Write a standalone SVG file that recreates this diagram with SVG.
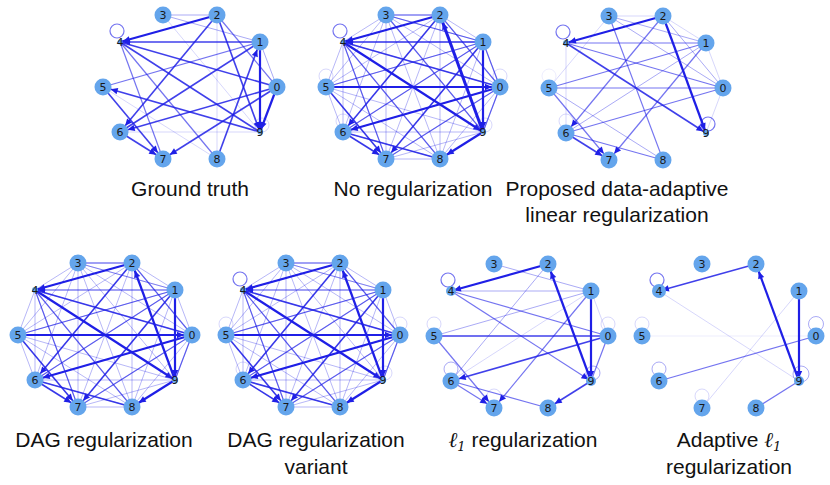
<svg xmlns="http://www.w3.org/2000/svg" xmlns:xlink="http://www.w3.org/1999/xlink" width="830" height="485" viewBox="0 0 830 485">
<style>
.nd{fill:#64a5ec}
.lb{font-family:"DejaVu Sans",sans-serif;font-size:11px;fill:#1a1a1a;text-anchor:middle}
.e0,.e1,.e2,.e3,.e4,.e5,.e6,.base{fill:none;stroke:#1f1fe6}
.e0{stroke-opacity:.1;stroke-width:.8}
.e1{stroke-opacity:.2;stroke-width:.9}
.e2{stroke-opacity:.38;stroke-width:1}
.e3{stroke-opacity:.62;stroke-width:1.2}
.e4{stroke-opacity:.85;stroke-width:1.6}
.e5{stroke-opacity:1;stroke-width:2.2}
.e6{stroke-opacity:1;stroke-width:3}
.base{stroke-opacity:.32;stroke-width:1}
.ma{marker-end:url(#a)}
.ms{marker-end:url(#s)}
.t{font-family:"Liberation Sans",Arial,sans-serif;font-size:21px;fill:#111;text-anchor:middle}
.m{font-family:"DejaVu Serif",serif;font-style:italic}
</style>
<defs>
<marker id="a" markerUnits="userSpaceOnUse" orient="auto" overflow="visible"><path d="M-8,0L-15,-3.2L-15,3.2Z" fill="#1f1fe6"/></marker>
<marker id="s" markerUnits="userSpaceOnUse" orient="auto" overflow="visible"><path d="M-3,0L-10,-3.2L-10,3.2Z" fill="#1f1fe6"/></marker>
<path id="allpairs" class="base" d="M87 0L70 -45M87 0L27 -72M87 0L-27 -72M87 0L-70 -45M87 0L-87 0M87 0L-70 45M87 0L-27 72M87 0L27 72M87 0L70 45M70 -45L27 -72M70 -45L-27 -72M70 -45L-70 -45M70 -45L-87 0M70 -45L-70 45M70 -45L-27 72M70 -45L27 72M70 -45L70 45M27 -72L-27 -72M27 -72L-70 -45M27 -72L-87 0M27 -72L-70 45M27 -72L-27 72M27 -72L27 72M27 -72L70 45M-27 -72L-70 -45M-27 -72L-87 0M-27 -72L-70 45M-27 -72L-27 72M-27 -72L27 72M-27 -72L70 45M-70 -45L-87 0M-70 -45L-70 45M-70 -45L-27 72M-70 -45L27 72M-70 -45L70 45M-87 0L-70 45M-87 0L-27 72M-87 0L27 72M-87 0L70 45M-70 45L-27 72M-70 45L27 72M-70 45L70 45M-27 72L27 72M-27 72L70 45M27 72L70 45"/>
</defs>

<!-- Graph 1: Ground truth -->
<g id="graph1" transform="translate(190,87)">
<g id="graph1-connectors">
<path class="e2" d="M-27-72L27-72"/>
<path class="e1" d="M27-72L27 72"/>
<path class="e3" d="M27-72L87 0"/>
<path class="e2" d="M-27-72L70-45"/>
<path class="e1" d="M-27-72L70 45"/>
<path class="e4" d="M-70-45L87 0"/>
<path class="e4" d="M-70-45L70 45"/>
<path class="e3" d="M-70-45L27 72"/>
<path class="e3" d="M-70-45L-27 72"/>
<path class="e3" d="M70-45L-87 0"/>
<path class="e4" d="M70-45L-70 45"/>
<path class="e2" d="M70-45L87 0"/>
<path class="e1" d="M-87 0L27 72"/>
<path class="e1" d="M-70 45L70 45"/>
<path class="e5 ms" d="M27-72L-70-45"/>
<path class="e4 ms" d="M70-45L-70-45"/>
<path class="e4 ma" d="M27-72L-70 45"/>
<path class="e4 ms" d="M27-72L70 45"/>
<path class="e5 ms" d="M70-45L70 45"/>
<path class="e4 ma" d="M27 72L70-45"/>
<path class="e4 ma" d="M87 0L-70 45"/>
<path class="e4 ma" d="M87 0L-27 72"/>
<path class="e5 ms" d="M87 0L70 45"/>
<path class="e4 ma" d="M70 45L-87 0"/>
<path class="e4 ma" d="M-87 0L-27 72"/>
<path class="e4 ma" d="M-70 45L-27 72"/>
<circle class="e3" cx="-73" cy="-56" r="7"/>
<circle class="e1" cx="72" cy="38" r="7"/>
</g>
<g id="g1-n0" transform="translate(87,0)"><circle class="nd" r="8.5"/><text class="lb" y="4">0</text></g>
<g id="g1-n1" transform="translate(70,-45)"><circle class="nd" r="8.5"/><text class="lb" y="4">1</text></g>
<g id="g1-n2" transform="translate(27,-72)"><circle class="nd" r="8.5"/><text class="lb" y="4">2</text></g>
<g id="g1-n3" transform="translate(-27,-72)"><circle class="nd" r="8.5"/><text class="lb" y="4">3</text></g>
<g id="g1-n4" transform="translate(-70,-45)"><circle class="nd" r="2.5"/><text class="lb" y="4">4</text></g>
<g id="g1-n5" transform="translate(-87,0)"><circle class="nd" r="8.5"/><text class="lb" y="4">5</text></g>
<g id="g1-n6" transform="translate(-70,45)"><circle class="nd" r="8.5"/><text class="lb" y="4">6</text></g>
<g id="g1-n7" transform="translate(-27,72)"><circle class="nd" r="8.5"/><text class="lb" y="4">7</text></g>
<g id="g1-n8" transform="translate(27,72)"><circle class="nd" r="8.5"/><text class="lb" y="4">8</text></g>
<g id="g1-n9" transform="translate(70,45)"><circle class="nd" r="2.5"/><text class="lb" y="4">9</text></g>
</g>

<!-- Graph 2: No regularization -->
<g id="graph2" transform="translate(413,87)">
<g id="graph2-connectors">
<use xlink:href="#allpairs"/>
<path class="e3" d="M-27-72L27-72"/>
<path class="e3" d="M-27-72L70-45"/>
<path class="e3" d="M70-45L-70 45"/>
<path class="e3" d="M70-45L-87 0"/>
<path class="e4" d="M-70-45L87 0"/>
<path class="e4" d="M-70 45L27 72"/>
<path class="e3" d="M87 0L70 45"/>
<path class="e3" d="M87 0L-27 72"/>
<path class="e3" d="M70-45L87 0"/>
<path class="e3" d="M27-72L87 0"/>
<path class="e3" d="M-27-72L70 45"/>
<path class="e3" d="M-70-45L27 72"/>
<path class="e3" d="M-70-45L-27 72"/>
<path class="e5 ms" d="M27-72L-70-45"/>
<path class="e4 ms" d="M70-45L-70-45"/>
<path class="e5 ms" d="M-70-45L70 45"/>
<path class="e6 ma" d="M70 45L27-72"/>
<path class="e5 ms" d="M70-45L70 45"/>
<path class="e5 ma" d="M-87 0L87 0"/>
<path class="e5 ma" d="M70 45L27 72"/>
<path class="e5 ma" d="M87 0L-70 45"/>
<path class="e4 ma" d="M70-45L-27 72"/>
<path class="e4 ma" d="M27-72L-70 45"/>
<path class="e4 ma" d="M-87 0L-27 72"/>
<path class="e4 ma" d="M-70 45L-27 72"/>
<circle class="e3" cx="-73" cy="-56" r="7"/>
<circle class="e1" cx="-87" cy="-11" r="7"/>
<circle class="e1" cx="-70" cy="34" r="7"/>
<circle class="e1" cx="72" cy="38" r="7"/>
<circle class="e1" cx="87" cy="-11" r="7"/>
</g>
<g id="g2-n0" transform="translate(87,0)"><circle class="nd" r="8.5"/><text class="lb" y="4">0</text></g>
<g id="g2-n1" transform="translate(70,-45)"><circle class="nd" r="8.5"/><text class="lb" y="4">1</text></g>
<g id="g2-n2" transform="translate(27,-72)"><circle class="nd" r="8.5"/><text class="lb" y="4">2</text></g>
<g id="g2-n3" transform="translate(-27,-72)"><circle class="nd" r="8.5"/><text class="lb" y="4">3</text></g>
<g id="g2-n4" transform="translate(-70,-45)"><circle class="nd" r="2.5"/><text class="lb" y="4">4</text></g>
<g id="g2-n5" transform="translate(-87,0)"><circle class="nd" r="8.5"/><text class="lb" y="4">5</text></g>
<g id="g2-n6" transform="translate(-70,45)"><circle class="nd" r="8.5"/><text class="lb" y="4">6</text></g>
<g id="g2-n7" transform="translate(-27,72)"><circle class="nd" r="8.5"/><text class="lb" y="4">7</text></g>
<g id="g2-n8" transform="translate(27,72)"><circle class="nd" r="8.5"/><text class="lb" y="4">8</text></g>
<g id="g2-n9" transform="translate(70,45)"><circle class="nd" r="2.5"/><text class="lb" y="4">9</text></g>
</g>

<!-- Graph 3: Proposed -->
<g id="graph3" transform="translate(636,88)">
<g id="graph3-connectors">
<path class="e1" d="M-27-72L27-72"/>
<path class="e2" d="M-27-72L70-45"/>
<path class="e2" d="M-27-72L87 0"/>
<path class="e3" d="M-27-72L27 72"/>
<path class="e1" d="M-27-72L-87 0"/>
<path class="e1" d="M27-72L70-45"/>
<path class="e2" d="M27-72L87 0"/>
<path class="e3 ma" d="M27-72L-70 45"/>
<path class="e3" d="M70-45L-70-45"/>
<path class="e3" d="M-70-45L87 0"/>
<path class="e3" d="M70-45L-87 0"/>
<path class="e2" d="M70-45L-70 45"/>
<path class="e3 ma" d="M70-45L-27 72"/>
<path class="e1" d="M70-45L87 0"/>
<path class="e3" d="M-87 0L87 0"/>
<path class="e3 ma" d="M-87 0L-27 72"/>
<path class="e2" d="M-87 0L27 72"/>
<path class="e3" d="M-70 45L27 72"/>
<path class="e3" d="M-70 45L87 0"/>
<path class="e1" d="M87 0L70 45"/>
<path class="e1" d="M-70-45L-70 45"/>
<path class="e5 ms" d="M27-72L-70-45"/>
<path class="e5 ms" d="M27-72L70 45"/>
<path class="e4 ms" d="M-70-45L70 45"/>
<path class="e4 ma" d="M-70 45L-27 72"/>
<circle class="e3" cx="-73" cy="-56" r="7"/>
<circle class="e3" cx="72" cy="36" r="7"/>
<circle class="e1" cx="-70" cy="33" r="7"/>
<circle class="e0" cx="-87" cy="-12" r="7"/>
</g>
<g id="g3-n0" transform="translate(87,0)"><circle class="nd" r="8.5"/><text class="lb" y="4">0</text></g>
<g id="g3-n1" transform="translate(70,-45)"><circle class="nd" r="8.5"/><text class="lb" y="4">1</text></g>
<g id="g3-n2" transform="translate(27,-72)"><circle class="nd" r="8.5"/><text class="lb" y="4">2</text></g>
<g id="g3-n3" transform="translate(-27,-72)"><circle class="nd" r="8.5"/><text class="lb" y="4">3</text></g>
<g id="g3-n4" transform="translate(-70,-45)"><circle class="nd" r="3"/><text class="lb" y="4">4</text></g>
<g id="g3-n5" transform="translate(-87,0)"><circle class="nd" r="8.5"/><text class="lb" y="4">5</text></g>
<g id="g3-n6" transform="translate(-70,45)"><circle class="nd" r="8.5"/><text class="lb" y="4">6</text></g>
<g id="g3-n7" transform="translate(-27,72)"><circle class="nd" r="8.5"/><text class="lb" y="4">7</text></g>
<g id="g3-n8" transform="translate(27,72)"><circle class="nd" r="8.5"/><text class="lb" y="4">8</text></g>
<g id="g3-n9" transform="translate(70,45)"><circle class="nd" r="3"/><text class="lb" y="4">9</text></g>
</g>

<!-- Graph 4: DAG regularization -->
<g id="graph4" transform="translate(105,335)">
<g id="graph4-connectors">
<use xlink:href="#allpairs"/>
<path class="e3" d="M-27-72L27-72"/>
<path class="e2" d="M-27-72L70-45"/>
<path class="e3" d="M70-45L-70 45"/>
<path class="e3" d="M70-45L-87 0"/>
<path class="e4" d="M-70-45L87 0"/>
<path class="e4" d="M-70 45L27 72"/>
<path class="e3" d="M87 0L70 45"/>
<path class="e3" d="M87 0L-27 72"/>
<path class="e3" d="M27-72L87 0"/>
<path class="e3" d="M-70-45L27 72"/>
<path class="e3" d="M-70-45L-27 72"/>
<path class="e5 ms" d="M27-72L-70-45"/>
<path class="e3 ms" d="M70-45L-70-45"/>
<path class="e5 ms" d="M-70-45L70 45"/>
<path class="e5 ma" d="M70 45L27-72"/>
<path class="e5 ms" d="M70-45L70 45"/>
<path class="e5 ma" d="M-87 0L87 0"/>
<path class="e5 ma" d="M70 45L27 72"/>
<path class="e5 ma" d="M87 0L-70 45"/>
<path class="e4 ma" d="M70-45L-27 72"/>
<path class="e4 ma" d="M27-72L-70 45"/>
<path class="e4 ma" d="M-87 0L-27 72"/>
<path class="e4 ma" d="M-70 45L-27 72"/>
</g>
<g id="g4-n0" transform="translate(87,0)"><circle class="nd" r="8.5"/><text class="lb" y="4">0</text></g>
<g id="g4-n1" transform="translate(70,-45)"><circle class="nd" r="8.5"/><text class="lb" y="4">1</text></g>
<g id="g4-n2" transform="translate(27,-72)"><circle class="nd" r="8.5"/><text class="lb" y="4">2</text></g>
<g id="g4-n3" transform="translate(-27,-72)"><circle class="nd" r="8.5"/><text class="lb" y="4">3</text></g>
<g id="g4-n4" transform="translate(-70,-45)"><circle class="nd" r="3"/><text class="lb" y="4">4</text></g>
<g id="g4-n5" transform="translate(-87,0)"><circle class="nd" r="8.5"/><text class="lb" y="4">5</text></g>
<g id="g4-n6" transform="translate(-70,45)"><circle class="nd" r="8.5"/><text class="lb" y="4">6</text></g>
<g id="g4-n7" transform="translate(-27,72)"><circle class="nd" r="8.5"/><text class="lb" y="4">7</text></g>
<g id="g4-n8" transform="translate(27,72)"><circle class="nd" r="8.5"/><text class="lb" y="4">8</text></g>
<g id="g4-n9" transform="translate(70,45)"><circle class="nd" r="3"/><text class="lb" y="4">9</text></g>
</g>

<!-- Graph 5: DAG regularization variant -->
<g id="graph5" transform="translate(313,335)">
<g id="graph5-connectors">
<use xlink:href="#allpairs"/>
<path class="e3" d="M-27-72L27-72"/>
<path class="e2" d="M-27-72L70-45"/>
<path class="e3" d="M70-45L-70 45"/>
<path class="e3" d="M70-45L-87 0"/>
<path class="e4" d="M-70-45L87 0"/>
<path class="e4" d="M-70 45L27 72"/>
<path class="e3" d="M87 0L70 45"/>
<path class="e3" d="M87 0L-27 72"/>
<path class="e3" d="M27-72L87 0"/>
<path class="e3" d="M-70-45L27 72"/>
<path class="e3" d="M-70-45L-27 72"/>
<path class="e5 ms" d="M27-72L-70-45"/>
<path class="e3 ms" d="M70-45L-70-45"/>
<path class="e5 ms" d="M-70-45L70 45"/>
<path class="e5 ma" d="M70 45L27-72"/>
<path class="e5 ms" d="M70-45L70 45"/>
<path class="e5 ma" d="M-87 0L87 0"/>
<path class="e5 ma" d="M70 45L27 72"/>
<path class="e5 ma" d="M87 0L-70 45"/>
<path class="e4 ma" d="M70-45L-27 72"/>
<path class="e4 ma" d="M27-72L-70 45"/>
<path class="e4 ma" d="M-87 0L-27 72"/>
<path class="e4 ma" d="M-70 45L-27 72"/>
<circle class="e3" cx="-73" cy="-56" r="7"/>
<circle class="e1" cx="-87" cy="-11" r="7"/>
<circle class="e1" cx="-70" cy="34" r="7"/>
<circle class="e1" cx="72" cy="38" r="7"/>
<circle class="e1" cx="87" cy="-11" r="7"/>
</g>
<g id="g5-n0" transform="translate(87,0)"><circle class="nd" r="8.5"/><text class="lb" y="4">0</text></g>
<g id="g5-n1" transform="translate(70,-45)"><circle class="nd" r="8.5"/><text class="lb" y="4">1</text></g>
<g id="g5-n2" transform="translate(27,-72)"><circle class="nd" r="8.5"/><text class="lb" y="4">2</text></g>
<g id="g5-n3" transform="translate(-27,-72)"><circle class="nd" r="8.5"/><text class="lb" y="4">3</text></g>
<g id="g5-n4" transform="translate(-70,-45)"><circle class="nd" r="3"/><text class="lb" y="4">4</text></g>
<g id="g5-n5" transform="translate(-87,0)"><circle class="nd" r="8.5"/><text class="lb" y="4">5</text></g>
<g id="g5-n6" transform="translate(-70,45)"><circle class="nd" r="8.5"/><text class="lb" y="4">6</text></g>
<g id="g5-n7" transform="translate(-27,72)"><circle class="nd" r="8.5"/><text class="lb" y="4">7</text></g>
<g id="g5-n8" transform="translate(27,72)"><circle class="nd" r="8.5"/><text class="lb" y="4">8</text></g>
<g id="g5-n9" transform="translate(70,45)"><circle class="nd" r="3"/><text class="lb" y="4">9</text></g>
</g>

<!-- Graph 6: l1 regularization -->
<g id="graph6" transform="translate(521,336)">
<g id="graph6-connectors">
<path class="e2" d="M-27-72L70-45"/>
<path class="e2" d="M70-45L-70-45"/>
<path class="e3" d="M-70-45L87 0"/>
<path class="e2" d="M70-45L-87 0"/>
<path class="e1" d="M70-45L-70 45"/>
<path class="e3 ma" d="M70-45L-27 72"/>
<path class="e1" d="M70-45L87 0"/>
<path class="e2" d="M27-72L-70 45"/>
<path class="e4" d="M-87 0L87 0"/>
<path class="e3 ma" d="M-87 0L-27 72"/>
<path class="e3" d="M87 0L70 45"/>
<path class="e3 ma" d="M-70 45L-27 72"/>
<path class="e3" d="M-70 45L27 72"/>
<path class="e3 ms" d="M-70-45L70 45"/>
<path class="e4 ma" d="M87 0L-70 45"/>
<path class="e4 ma" d="M70 45L27 72"/>
<path class="e5 ms" d="M27-72L-70-45"/>
<path class="e5 ma" d="M70 45L27-72"/>
<path class="e5 ms" d="M70-45L70 45"/>
<circle class="e3" cx="-73" cy="-56" r="7"/>
<circle class="e1" cx="87" cy="-12" r="7"/>
<circle class="e1" cx="-87" cy="-12" r="7"/>
<circle class="e2" cx="-70" cy="33" r="7"/>
<circle class="e1" cx="-27" cy="60" r="7"/>
<circle class="e2" cx="72" cy="37" r="7"/>
</g>
<g id="g6-n0" transform="translate(87,0)"><circle class="nd" r="8.5"/><text class="lb" y="4">0</text></g>
<g id="g6-n1" transform="translate(70,-45)"><circle class="nd" r="8.5"/><text class="lb" y="4">1</text></g>
<g id="g6-n2" transform="translate(27,-72)"><circle class="nd" r="8.5"/><text class="lb" y="4">2</text></g>
<g id="g6-n3" transform="translate(-27,-72)"><circle class="nd" r="8.5"/><text class="lb" y="4">3</text></g>
<g id="g6-n4" transform="translate(-70,-45)"><circle class="nd" r="5"/><text class="lb" y="4">4</text></g>
<g id="g6-n5" transform="translate(-87,0)"><circle class="nd" r="8.5"/><text class="lb" y="4">5</text></g>
<g id="g6-n6" transform="translate(-70,45)"><circle class="nd" r="8.5"/><text class="lb" y="4">6</text></g>
<g id="g6-n7" transform="translate(-27,72)"><circle class="nd" r="8.5"/><text class="lb" y="4">7</text></g>
<g id="g6-n8" transform="translate(27,72)"><circle class="nd" r="8.5"/><text class="lb" y="4">8</text></g>
<g id="g6-n9" transform="translate(70,45)"><circle class="nd" r="5"/><text class="lb" y="4">9</text></g>
</g>

<!-- Graph 7: Adaptive l1 -->
<g id="graph7" transform="translate(729,336)">
<g id="graph7-connectors">
<path class="e1" d="M-70-45L70 45"/>
<path class="e1" d="M70-45L-27 72"/>
<path class="e0" d="M-87 0L87 0"/>
<path class="e3" d="M87 0L-70 45"/>
<path class="e3" d="M70 45L27 72"/>
<path class="e4 ms" d="M27-72L-70-45"/>
<path class="e5 ma" d="M70 45L27-72"/>
<path class="e5 ms" d="M70-45L70 45"/>
<circle class="e3" cx="-72" cy="-56" r="7"/>
<circle class="e2" cx="87" cy="-12" r="7.5"/>
<circle class="e1" cx="-87" cy="-12" r="7"/>
<circle class="e2" cx="-70" cy="33" r="7"/>
<circle class="e1" cx="-27" cy="60" r="7"/>
<circle class="e2" cx="72" cy="38" r="8"/>
</g>
<g id="g7-n0" transform="translate(87,0)"><circle class="nd" r="8.5"/><text class="lb" y="4">0</text></g>
<g id="g7-n1" transform="translate(70,-45)"><circle class="nd" r="8.5"/><text class="lb" y="4">1</text></g>
<g id="g7-n2" transform="translate(27,-72)"><circle class="nd" r="8.5"/><text class="lb" y="4">2</text></g>
<g id="g7-n3" transform="translate(-27,-72)"><circle class="nd" r="8.5"/><text class="lb" y="4">3</text></g>
<g id="g7-n4" transform="translate(-70,-45)"><circle class="nd" r="7"/><text class="lb" y="4">4</text></g>
<g id="g7-n5" transform="translate(-87,0)"><circle class="nd" r="8.5"/><text class="lb" y="4">5</text></g>
<g id="g7-n6" transform="translate(-70,45)"><circle class="nd" r="8.5"/><text class="lb" y="4">6</text></g>
<g id="g7-n7" transform="translate(-27,72)"><circle class="nd" r="8.5"/><text class="lb" y="4">7</text></g>
<g id="g7-n8" transform="translate(27,72)"><circle class="nd" r="8.5"/><text class="lb" y="4">8</text></g>
<g id="g7-n9" transform="translate(70,45)"><circle class="nd" r="5"/><text class="lb" y="4">9</text></g>
</g>

<!-- Captions -->
<g id="captions">
<text class="t" x="190" y="196">Ground truth</text>
<text class="t" x="413" y="196">No regularization</text>
<text class="t" x="617" y="196">Proposed data-adaptive</text>
<text class="t" x="617" y="222">linear regularization</text>
<text class="t" x="104" y="447">DAG regularization</text>
<text class="t" x="316" y="447">DAG regularization</text>
<text class="t" x="316" y="474">variant</text>
<text class="t" x="523" y="447"><tspan class="m">ℓ</tspan><tspan class="m" font-style="normal" font-size="13" dy="4">1</tspan><tspan dy="-4"> regularization</tspan></text>
<text class="t" x="729" y="447">Adaptive <tspan class="m">ℓ</tspan><tspan class="m" font-style="normal" font-size="13" dy="4">1</tspan></text>
<text class="t" x="729" y="474">regularization</text>
</g>
</svg>
